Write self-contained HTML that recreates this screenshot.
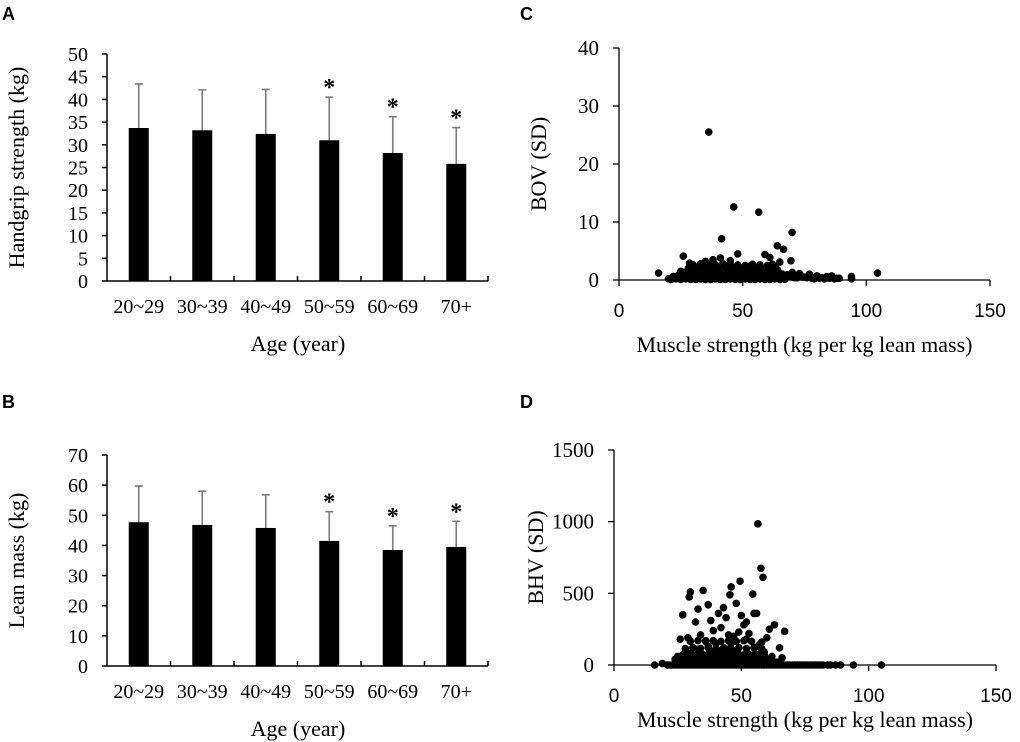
<!DOCTYPE html>
<html><head><meta charset="utf-8"><style>
body{margin:0;background:#fff;}
svg{display:block;}
text{font-family:"Liberation Serif",serif;fill:#000;}
.pl{font-family:"Liberation Sans",sans-serif;font-weight:bold;font-size:18px;}
.tk{font-size:20px;}
.tk2{font-size:21px;}
.tt{font-size:22px;}
.sx{font-family:"Liberation Sans",sans-serif;font-size:19px;}
</style></head><body>
<svg id="fig" width="1020" height="742" viewBox="0 0 1020 742"></svg>
<script>
const ageCats=["20~29","30~39","40~49","50~59","60~69","70+"];
const gripMean=[33.7,33.2,32.4,31.0,28.2,25.8];
const gripSD=[9.7,8.9,9.8,9.5,8.0,8.0];
const gripSig=[false,false,false,true,true,true];
const gripTicks=[0,5,10,15,20,25,30,35,40,45,50];
const leanMean=[47.7,46.8,45.8,41.5,38.5,39.5];
const leanSD=[12.0,11.2,11.0,9.7,8.0,8.5];
const leanSig=[false,false,false,true,true,true];
const leanTicks=[0,10,20,30,40,50,60,70];
const msTicks=[0,50,100,150];
const bovTicks=[0,10,20,30,40];
const bhvTicks=[0,500,1000,1500];
const bovX=[36.3,46.4,56.5,41.5,70,64,66.5,26,28.5,48,69.5,16,104.5,94,94,41,45,59,61,65,42,38,35,33,30,24,22,20,23,25,27,29,31,32,34,36,37,39,40,43,44,46,47,49,50,51,52,53,54,55,56,57,58,60,62,63,64,66,67,68,70,71,72,73,75,77,78,80,82,84,86,88,
 21,23,25,27,29,31,33,35,37,39,41,43,45,47,49,51,53,55,57,59,61,63,65,67,
 22,24,26,28,30,32,34,36,38,40,42,44,46,48,50,52,54,56,58,60,62,64,66,68,70,72,74,76,
 26,29,32,35,38,41,44,47,50,53,56,59,62,65,
 28,31,34,37,40,43,46,49,52,55,58,61,64,
 30,33,36,39,42,45,48,51,54,57,60,63,
 79,81,83,85,87,89];
const bovY=[25.5,12.6,11.7,7.1,8.2,5.9,5.3,4.1,2.9,4.5,3.3,1.2,1.2,0.6,0.2,3.8,3.3,4.4,3.9,3.1,2.8,3.5,3.2,2.8,1.5,0.8,0.6,0.2,0.4,1.5,1.0,0.7,1.2,0.5,1.8,1.1,2.2,0.6,1.4,2.5,0.9,1.6,2.0,0.5,1.3,1.8,0.7,2.4,1.1,0.4,1.9,2.3,0.8,1.2,2.7,0.5,1.4,1.0,0.6,0.9,1.3,0.4,0.8,1.1,0.5,1.0,0.3,0.7,0.4,0.6,0.7,0.3,
 0.1,0.2,0.1,0.2,0.1,0.1,0.2,0.1,0.1,0.2,0.1,0.1,0.2,0.1,0.1,0.2,0.1,0.1,0.2,0.1,0.1,0.2,0.1,0.1,
 0.6,0.7,0.6,0.8,0.7,0.6,0.8,0.7,0.6,0.8,0.7,0.6,0.8,0.7,0.6,0.8,0.7,0.6,0.8,0.7,0.6,0.8,0.7,0.6,0.5,0.4,0.5,0.4,
 1.3,1.2,1.4,1.3,1.5,1.2,1.4,1.3,1.5,1.2,1.4,1.3,1.5,1.2,
 2.0,1.9,2.1,2.0,1.9,2.1,2.0,1.9,2.1,2.0,1.9,2.1,1.8,
 2.6,2.5,2.7,2.6,2.5,2.7,2.6,2.5,2.7,2.6,2.5,2.4,
 0.2,0.3,0.2,0.3,0.2,0.3];
const bhvX=[56.5,57.7,58.5,49.5,46,45.5,35,30,29.5,54.5,33,37,41,43,48,52,55,27,32,38,44,50,56,60,67,63,26,29,34,39,42,47,51,53,58,61,65,31,36,40,45,49,57,28,33,37,41,46,52,55,59,62,24,30,35,39,44,48,53,57,66,25,29,34,38,43,47,51,56,61,64,27,32,36,42,46,50,54,58,16,19,21,23,26,28,31,33,36,38,41,43,46,48,51,53,56,58,61,63,66,68,71,73,76,78,81,84,87,94,105,
 22,24,25,27,29,30,32,34,35,37,39,40,42,44,45,47,49,50,52,54,55,57,59,60,62,64,65,67,69,70,72,74,75,77,79,80,82,85,89,
 26,28,30,32,34,36,38,40,42,44,46,48,50,52,54,56,58,60,62,
 27,29,31,33,35,37,39,41,43,45,47,49,51,53,55,57,59,
 28,31,34,37,40,43,46,49,52,55,58,
 30,33,36,39,42,45,48,51,54];
const bhvY=[985,675,612,585,545,490,520,510,475,495,390,420,360,400,430,300,360,350,300,310,330,345,360,190,235,280,180,190,210,240,260,200,280,220,160,250,120,120,170,150,210,230,140,90,110,130,100,150,180,120,90,60,40,80,70,90,110,100,60,130,50,60,40,50,70,60,80,40,70,30,20,30,20,40,30,20,50,30,20,0,10,0,0,0,0,0,0,0,0,0,0,0,0,0,0,0,0,0,0,0,0,0,0,0,0,0,0,0,0,0,
 0,0,0,0,0,0,0,0,0,0,0,0,0,0,0,0,0,0,0,0,0,0,0,0,0,0,0,0,0,0,0,0,0,0,0,0,0,0,0,
 30,35,30,35,30,35,30,35,30,35,30,35,30,35,30,35,30,35,30,
 70,75,70,75,70,75,70,75,70,75,70,75,70,75,70,75,70,
 115,120,115,120,115,120,115,120,115,120,115,
 165,170,165,170,165,170,165,170,165];
</script>
<script>
const NS="http://www.w3.org/2000/svg";
const svg=document.getElementById('fig');
function mk(tag,attrs,parent,txt){const e=document.createElementNS(NS,tag);for(const k in attrs)e.setAttribute(k,attrs[k]);if(txt!==undefined)e.textContent=txt;(parent||svg).appendChild(e);return e;}

function barPanel(opt){
  const g=mk('g',{});
  
  
  const x0=107,x1=488,y0=opt.y0,yTop=opt.yTop,max=opt.ticks[opt.ticks.length-1];
  const sy=v=>y0-(v/max)*(y0-yTop);
  const step=(x1-x0)/ageCats.length;
  const cx=i=>x0+step*(i+0.5);
  mk('line',{x1:x0,y1:y0,x2:x0,y2:yTop,stroke:'#000','stroke-width':1.5},g);
  mk('line',{x1:x0,y1:y0,x2:x1,y2:y0,stroke:'#000','stroke-width':1.5},g);
  opt.ticks.forEach(t=>{
    mk('line',{x1:x0-5,y1:sy(t),x2:x0,y2:sy(t),stroke:'#000','stroke-width':1.5},g);
    const tx=mk('text',{x:x0-19,y:sy(t)+7,'text-anchor':'end',class:'tk'},g,String(t));
    
    
  });
  for(let i=1;i<=ageCats.length;i++) mk('line',{x1:x0+step*i,y1:y0,x2:x0+step*i,y2:y0-5,stroke:'#000','stroke-width':1.5},g);
  ageCats.forEach((c,i)=>{
    const top=sy(opt.mean[i]+opt.sd[i]);
    const eb=mk('path',{d:`M${cx(i)} ${sy(opt.mean[i])}V${top}M${cx(i)-4} ${top}H${cx(i)+4}`,stroke:'#7a7a7a','stroke-width':1.6,fill:'none'},g);
    
    
    const r=mk('rect',{x:cx(i)-10,y:sy(opt.mean[i]),width:20,height:y0-sy(opt.mean[i]),fill:'#000'},g);
    
    
    if(opt.sig[i]){const s=mk('text',{x:cx(i),y:top-2,'text-anchor':'middle','font-size':'24px','font-weight':'bold'},g,'*');
      
      }
    const l=mk('text',{x:cx(i),y:y0+32,'text-anchor':'middle',class:'tk'},g,c);
    
    
  });
  const xt=mk('text',{x:298,y:y0+70,'text-anchor':'middle',class:'tt'},g,'Age (year)');
  
  
  const ycy=(y0+yTop)/2;
  const yt=mk('text',{x:0,y:0,'text-anchor':'middle',class:'tt',transform:`translate(24,${ycy}) rotate(-90)`},g,opt.ytitle);
  
  
  const pl=mk('text',{x:2,y:opt.labelY,class:'pl'},g,opt.letter);
  
  
}
barPanel({name:'panel-a-handgrip-chart',y0:281,yTop:54,ticks:gripTicks,mean:gripMean,sd:gripSD,sig:gripSig,ytitle:'Handgrip strength (kg)',letter:'A',labelY:20});
barPanel({name:'panel-b-lean-mass-chart',y0:666,yTop:455,ticks:leanTicks,mean:leanMean,sd:leanSD,sig:leanSig,ytitle:'Lean mass (kg)',letter:'B',labelY:408});

function scatterPanel(opt){
  const g=mk('g',{});
  
  
  const {x0,x1,y0,yTop}=opt;
  const xmax=msTicks[msTicks.length-1],ymax=opt.ticks[opt.ticks.length-1];
  const sx=v=>x0+v/xmax*(x1-x0), sy=v=>y0-v/ymax*(y0-yTop);
  mk('line',{x1:x0,y1:y0,x2:x0,y2:yTop,stroke:'#000','stroke-width':1.3},g);
  mk('line',{x1:x0,y1:y0,x2:x1,y2:y0,stroke:'#000','stroke-width':1.3},g);
  opt.ticks.forEach(t=>{
    mk('line',{x1:x0-6,y1:sy(t),x2:x0,y2:sy(t),stroke:'#000','stroke-width':1.3},g);
    const tx=mk('text',{x:x0-20,y:sy(t)+7,'text-anchor':'end',class:'tk2'},g,String(t));
    
    
  });
  msTicks.forEach(t=>{
    mk('line',{x1:sx(t),y1:y0,x2:sx(t),y2:y0+6,stroke:'#000','stroke-width':1.3},g);
    const tx=mk('text',{x:sx(t),y:y0+37,'text-anchor':'middle',class:'sx'},g,String(t));
    
    
  });
  const n=Math.min(opt.xs.length,opt.ys.length);
  for(let i=0;i<n;i++){
    const c=mk('circle',{cx:sx(opt.xs[i]),cy:sy(opt.ys[i]),r:3.8,fill:'#000'},g);
    
    
  }
  const xt=mk('text',{x:(x0+x1)/2,y:y0+opt.xtOff,'text-anchor':'middle',class:'tt'},g,'Muscle strength (kg per kg lean mass)');
  
  
  const yt=mk('text',{x:0,y:0,'text-anchor':'middle',class:'tt',transform:`translate(${opt.ytX},${(y0+yTop)/2}) rotate(-90)`},g,opt.ytitle);
  
  
  const pl=mk('text',{x:opt.lx,y:opt.ly,class:'pl'},g,opt.letter);
  
  
}
scatterPanel({name:'panel-c-bov-scatter',x0:619,x1:990,y0:280,yTop:48,ticks:bovTicks,xs:bovX,ys:bovY,ytitle:'BOV (SD)',ytX:546,xtOff:72,letter:'C',lx:520,ly:20});
scatterPanel({name:'panel-d-bhv-scatter',x0:614,x1:996,y0:665,yTop:450,ticks:bhvTicks,xs:bhvX,ys:bhvY,ytitle:'BHV (SD)',ytX:543,xtOff:62,letter:'D',lx:520,ly:408});
</script>
</body></html>
